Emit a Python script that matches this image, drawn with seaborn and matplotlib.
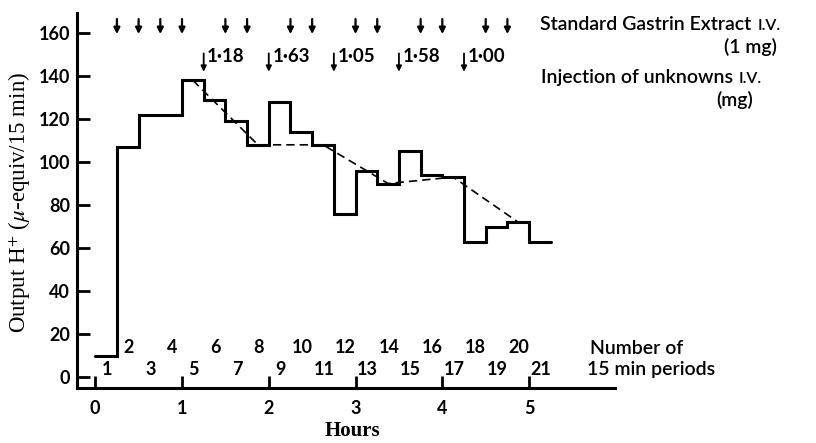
import numpy as np
import pandas as pd
import matplotlib
matplotlib.use("Agg")
import matplotlib.pyplot as plt
import seaborn as sns

# Acid output per 15 min collection period
periods = list(range(1, 22))
output_h = [10, 107, 122, 122, 138, 129, 119, 108, 128, 114, 108,
            76, 96, 90, 105, 94, 93, 63, 70, 72, 63]

# Injection times (hours)
standard_times = [0.25, 0.5, 0.75, 1.0, 1.5, 1.75, 2.25, 2.5,
                  3.0, 3.25, 3.75, 4.0, 4.5, 4.75]
unknown_times = [1.25, 2.0, 2.75, 3.5, 4.25]
unknown_doses = ["1·18", "1·63", "1·05", "1·58", "1·00"]

# Dashed line through the standard responses
trend_hours = [1.125, 1.875, 2.625, 3.375, 4.125, 4.875]
trend_output = [138, 108, 108, 90, 93, 72]

hour_ticks = [0, 1, 2, 3, 4, 5]
y_ticks = [0, 20, 40, 60, 80, 100, 120, 140, 160]

period_len = 0.25

sns.set_theme(style="white")
plt.rcParams["font.family"] = ["Lato", "DejaVu Sans"]
plt.rcParams["mathtext.fontset"] = "stix"
plt.rcParams["text.color"] = "black"

fig = plt.figure(figsize=(8.16, 4.43), dpi=100)
ax = fig.add_axes([77 / 816, 1 - 388 / 443, (615 - 77) / 816, (388 - 13) / 443])

starts = [(p - 1) * period_len for p in periods]
step_df = pd.DataFrame({
    "hours": starts + [periods[-1] * period_len],
    "output": output_h + [output_h[-1]],
})
sns.lineplot(data=step_df, x="hours", y="output", drawstyle="steps-post",
             color="black", lw=2.2, ax=ax, solid_joinstyle="miter")

trend_df = pd.DataFrame({"hours": trend_hours, "output": trend_output})
sns.lineplot(data=trend_df, x="hours", y="output", color="black", lw=1.2,
             ax=ax, dashes=False, linestyle=(0, (5, 3)))

ax.set_xlim(-0.21, 5.99)
ax.set_ylim(-5.1, 169.3)
ax.set_xlabel("")
ax.set_ylabel("")

for side in ["top", "right"]:
    ax.spines[side].set_visible(False)
for side in ["left", "bottom"]:
    ax.spines[side].set_linewidth(2.2)
    ax.spines[side].set_color("black")

ax.set_xticks(hour_ticks)
ax.set_yticks(y_ticks)
ax.tick_params(axis="both", direction="in", length=9, width=2.0,
               colors="black", labelsize=13, bottom=True, left=True)
ax.tick_params(axis="x", pad=9)
ax.tick_params(axis="y", pad=5)
for lab in ax.get_xticklabels() + ax.get_yticklabels():
    lab.set_fontweight("bold")

# Axis titles
fig.text(352 / 816, 1 - 431 / 443, "Hours", family="Liberation Serif",
         fontsize=15, fontweight="bold", ha="center", va="center", color="black")
fig.text(20 / 816, 1 - 202 / 443, r"Output H$^{+}$ ($\mu$-equiv/15 min)",
         family="Liberation Serif", fontsize=16.5, rotation=90,
         ha="center", va="center", color="black")

# Standard gastrin injections
for t in standard_times:
    ax.annotate("", xy=(t, 159.5), xytext=(t, 166.5),
                arrowprops=dict(arrowstyle="-|>", color="black", lw=1.6,
                                mutation_scale=9, shrinkA=0, shrinkB=0),
                annotation_clip=False)

# Unknown injections and their doses
for t, dose in zip(unknown_times, unknown_doses):
    ax.annotate("", xy=(t, 142), xytext=(t, 150.5),
                arrowprops=dict(arrowstyle="-|>", color="black", lw=1.3,
                                mutation_scale=8, shrinkA=0, shrinkB=0),
                annotation_clip=False)
    ax.text(t + 0.04, 149.3, dose, ha="left", va="center", fontsize=13.5,
            fontweight="bold", color="black")

# Period numbers along the bottom
for p in periods:
    mid = (p - 0.5) * period_len
    yv = 13.8 if p % 2 == 0 else 3.6
    ax.text(mid + 0.01, yv, str(p), ha="center", va="center", fontsize=13,
            fontweight="bold", color="black")

txt_kw = dict(fontsize=14, fontweight="semibold", color="black",
              transform=fig.transFigure)


def with_small_caps(x_px, y_px, main, small):
    t = fig.text(x_px / 816, 1 - y_px / 443, main, ha="left", va="center", **txt_kw)
    fig.canvas.draw()
    bb = t.get_window_extent()
    fig.text((bb.x1 + 6) / 816, 1 - (y_px + 1) / 443, small, ha="left", va="center",
             fontsize=11.5, fontweight="semibold", color="black",
             transform=fig.transFigure)


with_small_caps(540, 25, "Standard Gastrin Extract", "I.V.")
fig.text(777 / 816, 1 - 47 / 443, "(1 mg)", ha="right", va="center", **txt_kw)
with_small_caps(541, 78, "Injection of unknowns", "I.V.")
fig.text(753 / 816, 1 - 100 / 443, "(mg)", ha="right", va="center", **txt_kw)

fig.text(590 / 816, 1 - 348 / 443, "Number of", ha="left", va="center", **txt_kw)
fig.text(587 / 816, 1 - 369 / 443, "15 min periods", ha="left", va="center", **txt_kw)

fig.savefig("out.png", dpi=100, facecolor="white")
